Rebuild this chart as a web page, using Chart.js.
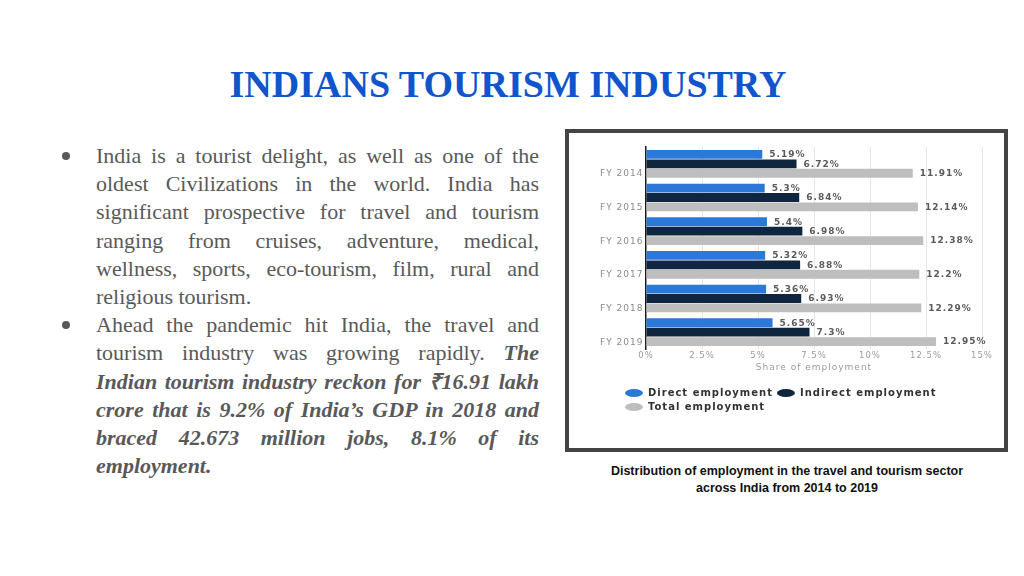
<!DOCTYPE html>
<html>
<head>
<meta charset="utf-8">
<script src="https://cdn.jsdelivr.net/npm/chart.js@4.4.0/dist/chart.umd.min.js"></script>
<style>
  html, body { margin: 0; padding: 0; background: #fff; }
  body { width: 1024px; height: 576px; position: relative; overflow: hidden; }
  #title { position: absolute; left: 0; top: 65px; width: 1016px; text-align: center;
    font-family: "Liberation Serif", "Times New Roman", serif; font-weight: bold; font-size: 38px;
    line-height: 38px; color: #1155cc; }
  #text { position: absolute; left: 96px; top: 142px; width: 443px;
    font-family: "Liberation Serif", "Times New Roman", serif; font-size: 22px; line-height: 28.2px; color: #595959; }
  #text .l { display: block; white-space: nowrap; text-align: justify; text-align-last: justify; }
  #text .e { display: block; white-space: nowrap; text-align: left; }
  #text b { font-style: italic; font-weight: bold; }
  .bullet { position: absolute; width: 8px; height: 8px; border-radius: 50%; background: #595959; }
  #box { position: absolute; left: 565px; top: 129px; width: 443px; height: 323px; box-sizing: border-box;
    border: 4px solid #444; background: #fff; }
  #chart { display: block; }
  #caption { position: absolute; left: 587px; top: 463px; width: 400px; text-align: center;
    font-family: "Liberation Sans", Arial, sans-serif; font-weight: bold; font-size: 12.5px; line-height: 16.5px; color: #111; }
</style>
</head>
<body>
<div id="title">INDIANS TOURISM INDUSTRY</div>
<div class="bullet" style="left:62px; top:152px;"></div>
<div class="bullet" style="left:62px; top:321px;"></div>
<div id="text">
  <span class="l">India is a tourist delight, as well as one of the</span>
  <span class="l">oldest Civilizations in the world. India has</span>
  <span class="l">significant prospective for travel and tourism</span>
  <span class="l">ranging from cruises, adventure, medical,</span>
  <span class="l">wellness, sports, eco-tourism, film, rural and</span>
  <span class="e">religious tourism.</span>
  <span class="l">Ahead the pandemic hit India, the travel and</span>
  <span class="l">tourism industry was growing rapidly. <b>The</b></span>
  <span class="l"><b>Indian tourism industry reckon for ₹16.91 lakh</b></span>
  <span class="l"><b>crore that is 9.2% of India’s GDP in 2018 and</b></span>
  <span class="l"><b>braced 42.673 million jobs, 8.1% of its</b></span>
  <span class="e"><b>employment.</b></span>
</div>
<div id="box"><canvas id="chart" width="435" height="315"></canvas></div>
<div id="caption">Distribution of employment in the travel and tourism sector<br>across India from 2014 to 2019</div>
<script>
const categories = ['FY 2014', 'FY 2015', 'FY 2016', 'FY 2017', 'FY 2018', 'FY 2019'];
const directEmployment = [5.19, 5.3, 5.4, 5.32, 5.36, 5.65];
const indirectEmployment = [6.72, 6.84, 6.98, 6.88, 6.93, 7.3];
const totalEmployment = [11.91, 12.14, 12.38, 12.2, 12.29, 12.95];
const seriesNames = ['Direct employment', 'Indirect employment', 'Total employment'];
const xAxisTitle = 'Share of employment';

const FONT = '"DejaVu Sans", Verdana, sans-serif';

const spacingPlugin = {
  id: 'spacing',
  beforeLayout(chart) { chart.ctx.letterSpacing = '1px'; },
  beforeDraw(chart) { chart.ctx.letterSpacing = '1px'; }
};

const valueLabels = {
  id: 'valueLabels',
  afterDatasetsDraw(chart) {
    const ctx = chart.ctx;
    ctx.save();
    ctx.font = 'bold 9px ' + FONT;
    ctx.letterSpacing = '1px';
    ctx.fillStyle = '#5a5a5a';
    ctx.textAlign = 'left';
    ctx.textBaseline = 'middle';
    chart.data.datasets.forEach((ds, i) => {
      chart.getDatasetMeta(i).data.forEach((bar, j) => {
        ctx.fillText(ds.data[j] + '%', bar.x + 7, bar.y + 0.5);
      });
    });
    ctx.restore();
  }
};

new Chart(document.getElementById('chart'), {
  type: 'bar',
  data: {
    labels: categories,
    datasets: [
      { label: seriesNames[0], data: directEmployment, backgroundColor: '#2c78d8' },
      { label: seriesNames[1], data: indirectEmployment, backgroundColor: '#10263f' },
      { label: seriesNames[2], data: totalEmployment, backgroundColor: '#bebebe' }
    ]
  },
  options: {
    indexAxis: 'y',
    responsive: false,
    animation: false,
    devicePixelRatio: 1,
    datasets: { bar: { barPercentage: 0.94, categoryPercentage: 0.84 } },
    layout: { padding: { left: 52, right: 22, top: 14, bottom: 26 } },
    scales: {
      x: {
        min: 0, max: 15,
        ticks: { stepSize: 2.5, color: '#9a9a9a', padding: 2, font: { family: FONT, size: 8.5 },
          callback: v => v + '%' },
        grid: { color: c => c.index === 0 ? 'rgba(0,0,0,0)' : '#e6e6e6', drawTicks: false },
        border: { display: false },
        title: { display: true, text: xAxisTitle, color: '#9a9a9a', font: { family: FONT, size: 9 },
          padding: { top: 0, bottom: 11 } },
        afterFit: s => { s.height = 35; }
      },
      y: {
        ticks: { color: '#8a8a8a', mirror: true, crossAlign: 'near', padding: -46, labelOffset: 10,
          font: { family: FONT, size: 9 } },
        grid: { display: false, drawTicks: false },
        border: { display: true, color: '#1a1a1a', width: 1.5 },
        afterFit: s => { s.width = 25; }
      }
    },
    plugins: {
      legend: {
        position: 'bottom',
        align: 'start',
        labels: {
          usePointStyle: true, pointStyle: 'circle', pointStyleWidth: 18, boxHeight: 5.7,
          padding: 4, color: '#333',
          font: { family: FONT, size: 10, weight: 'bold' }
        }
      },
      tooltip: { enabled: false }
    }
  },
  plugins: [spacingPlugin, valueLabels]
});
</script>
</body>
</html>
